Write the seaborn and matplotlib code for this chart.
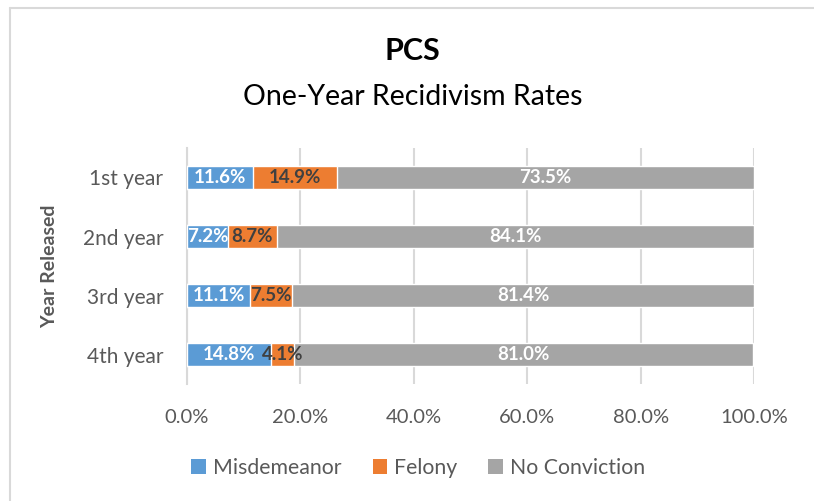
import seaborn as sns
import matplotlib.pyplot as plt
from matplotlib.patches import Patch
from matplotlib.lines import Line2D
from matplotlib.ticker import FuncFormatter, FixedLocator

# Data
years = ["1st year", "2nd year", "3rd year", "4th year"]
misdemeanor = [11.6, 7.2, 11.1, 14.8]
felony = [14.9, 8.7, 7.5, 4.1]
no_conviction = [73.5, 84.1, 81.4, 81.0]

series_names = ["Misdemeanor", "Felony", "No Conviction"]
colors = ["#5B9BD5", "#ED7D31", "#A5A5A5"]
label_colors = ["white", "#404040", "white"]

sns.set_theme(style="white")
plt.rcParams['font.family'] = ['Lato', 'DejaVu Sans']
text_gray = "#595959"
grid_gray = "#D9D9D9"

fig = plt.figure(figsize=(8.14, 5.01), dpi=100)
ax = fig.add_axes([0.2297, 0.2335, 0.6966, 0.4711])

# stacked bars: draw cumulative totals back to front
cum1 = misdemeanor
cum2 = [m + f for m, f in zip(misdemeanor, felony)]
cum3 = [m + f + n for m, f, n in zip(misdemeanor, felony, no_conviction)]
for vals, col in zip([cum3, cum2, cum1], colors[::-1]):
    sns.barplot(x=vals, y=years, orient="h", color=col, width=0.4,
                saturation=1, ax=ax, zorder=3)

# data labels centred in each segment
for i in range(len(years)):
    lefts = [0, cum1[i], cum2[i]]
    vals = [misdemeanor[i], felony[i], no_conviction[i]]
    for left, v, lc in zip(lefts, vals, label_colors):
        ax.text(left + v / 2, i, f"{v:.1f}%", ha="center", va="center",
                color=lc, fontsize=13.5, fontweight="bold", zorder=5)

ax.set_xlim(0, 100)
ax.set_ylim(3.5, -0.5)
ax.xaxis.set_major_locator(FixedLocator([0, 20, 40, 60, 80, 100]))
ax.xaxis.set_major_formatter(FuncFormatter(lambda v, p: f"{v:.1f}%"))
ax.grid(axis="x", color=grid_gray, linewidth=1.5, zorder=0)
ax.set_axisbelow(True)

for s in ["top", "right", "bottom"]:
    ax.spines[s].set_visible(False)
ax.spines["left"].set_color(grid_gray)
ax.spines["left"].set_linewidth(1.5)

ax.tick_params(axis="x", length=0, pad=18, labelsize=14.5, labelcolor=text_gray)
ax.tick_params(axis="y", which="major", length=0, pad=17, labelsize=15,
               labelcolor=text_gray)
ax.set_yticks([-0.5, 0.5, 1.5, 2.5, 3.5], minor=True)
ax.tick_params(axis="y", which="minor", length=6, width=1.5, color=grid_gray,
               direction="out")

ax.set_xlabel("")
ax.set_ylabel("Year Released", fontsize=14, fontweight="bold", color=text_gray,
              labelpad=18)

fig.text(0.507, 0.898, "PCS", ha="center", va="center", fontsize=22,
         fontweight="bold", color="black")
fig.text(0.507, 0.806, "One-Year Recidivism Rates", ha="center", va="center",
         fontsize=20.5, color="black")

handles = [Patch(facecolor=c, edgecolor="none", label=n)
           for c, n in zip(colors, series_names)]
fig.legend(handles=handles, loc="center", bbox_to_anchor=(0.514, 0.066),
           ncol=3, frameon=False, fontsize=15.3, handlelength=0.68,
           handleheight=0.68, handletextpad=0.35, columnspacing=1.45,
           labelcolor=text_gray)

# chart area border: only top and left edges are inside the image
fig.add_artist(Line2D([0.0123, 1.0], [0.984, 0.984], transform=fig.transFigure,
                      color=grid_gray, linewidth=1.5))
fig.add_artist(Line2D([0.0123, 0.0123], [0.0, 0.984], transform=fig.transFigure,
                      color=grid_gray, linewidth=1.5))

fig.savefig("out.png", dpi=100)
